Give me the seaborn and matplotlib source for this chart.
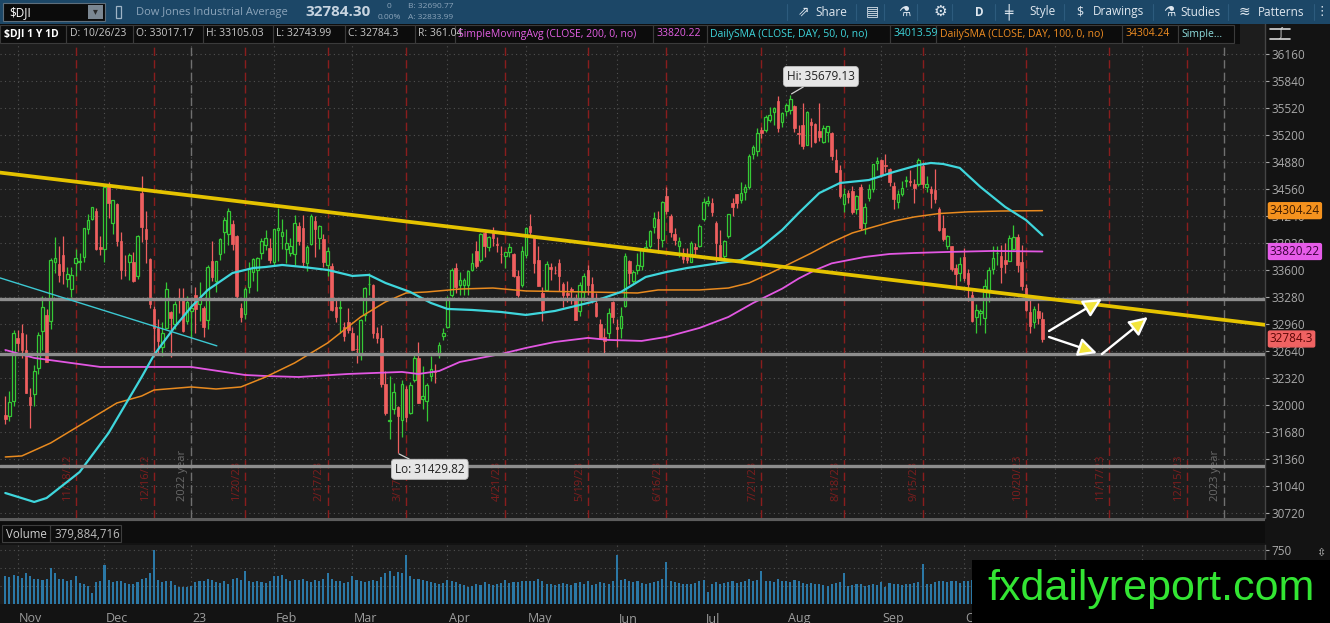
import numpy as np
import pandas as pd
import matplotlib
matplotlib.use("Agg")
import matplotlib.pyplot as plt
import seaborn as sns
from matplotlib.patches import Rectangle

sns.set_theme(style="dark")
plt.rcParams['font.family'] = ['Open Sans', 'DejaVu Sans']
plt.rcParams['patch.force_edgecolor'] = False

# ---------------- data (DJIA daily, 10/26/22 - 10/26/23) ----------------
opens = [31880, 31870, 32050, 32800,
 32860, 32650, 32100, 32130, 32440, 32880, 33070, 33000, 33700, 33670, 33780, 33500, 33380, 33680, 33700, 33750, 34090, 34210, 34300, 33870, 33850,
 34620, 34160, 34380, 33950, 33600, 33700, 33700, 33530, 34510, 34090, 33730, 33140, 32910, 32690, 32920, 33100, 32960, 33250, 33260, 33000, 33120,
 33300, 33200, 33150, 33010, 33710, 33470, 33790, 34050, 34030, 34150, 34000, 33150, 33080, 33400, 33580, 33600, 33800, 33900, 33860, 33700,
 34070, 34000, 33850, 33800, 33790, 34120, 34100, 33680, 33910, 34180, 33980, 33970, 33660, 33650, 33160, 33150, 32930, 32990, 32850,
 32670, 32590, 33070, 33430, 33420, 32860, 32800, 32250, 31810, 31950, 31980, 31820, 32190, 31910, 32300, 32560, 32070, 32050, 32340, 32400, 32590, 32820, 32930,
 33300, 33630, 33420, 33420, 33420, 33600, 33830, 33720, 34040, 33870, 34060, 33900, 33790, 33770, 33810, 33790, 33530, 33420, 33780,
 34120, 34000, 33720, 33330, 33360, 33640, 33570, 33690, 33430, 33330, 33380, 33270, 33120, 33340, 33600, 33430, 33210, 32960, 32810, 32850, 33220, 32930,
 32920, 33180, 33710, 33470, 33600, 33650, 33850, 33880, 34110, 34200, 33960, 34480, 34240, 34030, 33880, 33800, 33750, 33700, 33870, 33890, 34200,
 34400, 34390, 34160, 33900, 33770, 34000, 34400, 34500, 34430, 34530, 34580, 34970, 35010, 35260, 35260, 35380, 35470, 35600, 35360, 35480,
 35500, 35540, 35220, 35320, 35080, 35360, 35330, 35250, 35120, 35240, 35220, 34910, 34780, 34380, 34510, 34540, 34320, 34590, 34160, 34460, 34560, 34870, 34900,
 34850, 34800, 34600, 34410, 34500, 34650, 34650, 34620, 34620, 34830, 34580, 34560, 34550, 34320, 34100, 33890, 33880, 33620, 33560, 33760,
 33560, 33310, 33050, 33090, 33030, 33360, 33610, 33800, 33770, 33720, 33710, 33850, 33990, 33700, 33390, 33100, 32990, 33120, 33017.17]

highs = [32110, 32170, 32890, 32890,
 32960, 32840, 32200, 32480, 32870, 33290, 33140, 33740, 33990, 33890, 34000, 33640, 33640, 33850, 33800, 34100, 34270, 34350, 34340, 34000, 34590,
 34640, 34430, 34400, 34050, 33780, 33800, 33810, 34010, 34712, 34300, 33740, 33180, 33020, 32990, 33460, 33110, 33230, 33390, 33390, 33290, 33200,
 33400, 33460, 33170, 33660, 33940, 33710, 33980, 34230, 34330, 34190, 34010, 33210, 33400, 33700, 33740, 33760, 33980, 34080, 33980, 34090,
 34330, 34200, 34090, 33980, 34250, 34170, 34250, 33900, 34270, 34240, 34140, 34030, 33870, 33680, 33270, 33250, 32990, 33150, 32930,
 32830, 33020, 33400, 33570, 33430, 32930, 32950, 32400, 32340, 32260, 31990, 32300, 32230, 32280, 32600, 32750, 32460, 32260, 32580, 32490, 32750, 32910, 33290,
 33630, 33690, 33580, 33510, 33600, 33800, 33940, 34040, 34080, 34000, 34110, 33990, 33880, 33820, 33920, 33800, 33600, 33880, 34110,
 34260, 34000, 33880, 33400, 33710, 33690, 33650, 33730, 33460, 33470, 33400, 33320, 33460, 33560, 33660, 33520, 33330, 33020, 32920, 33150, 33230, 33020,
 33160, 33800, 33720, 33600, 33800, 33850, 33960, 34070, 34290, 34300, 34420, 34590, 34260, 34100, 33990, 33860, 33860, 33950, 33920, 34150, 34450,
 34480, 34450, 34180, 34070, 33960, 34270, 34450, 34500, 34640, 34620, 34980, 35080, 35280, 35300, 35440, 35530, 35530, 35660, 35470, 35580,
 35679.13, 35560, 35320, 35580, 35490, 35400, 35340, 35580, 35320, 35310, 35230, 35030, 34840, 34570, 34550, 34600, 34490, 34620, 34400, 34620, 34860, 34940, 34920,
 34980, 34810, 34640, 34550, 34650, 34720, 34780, 34680, 34930, 34880, 34720, 34600, 34800, 34350, 34250, 34020, 33890, 33670, 33760, 33860,
 33610, 33350, 33200, 33140, 33490, 33640, 33880, 33880, 33900, 33920, 34020, 34130, 34030, 33900, 33430, 33250, 33180, 33210, 33105.03]

lows = [31780, 31810, 31990, 32640,
 32560, 32140, 31730, 31990, 32370, 32650, 32510, 32900, 33560, 33460, 33430, 33400, 33280, 33530, 33600, 33700, 34030, 34190, 33840, 33780, 33700,
 34220, 34030, 33890, 33500, 33530, 33480, 33460, 33500, 33930, 33680, 33150, 32570, 32620, 32580, 32900, 32570, 32900, 33090, 32870, 32960, 32810,
 32850, 33000, 32810, 32900, 33470, 33340, 33720, 33800, 33900, 33840, 33270, 32980, 33020, 33330, 33470, 33350, 33730, 33840, 33680, 33660,
 33710, 33850, 33690, 33770, 33660, 33900, 33640, 33590, 33900, 33750, 33850, 33640, 33530, 33120, 32990, 32850, 32760, 32850, 32650,
 32500, 32530, 33000, 33310, 32800, 32740, 32220, 31880, 31600, 31900, 31429.82, 31620, 31800, 31900, 32280, 32030, 31960, 31810, 32290, 32260, 32560, 32770, 32920,
 33280, 33330, 33300, 33300, 33310, 33590, 33620, 33700, 33760, 33830, 33880, 33810, 33690, 33620, 33760, 33520, 33280, 33400, 33740,
 33990, 33570, 33410, 33000, 33350, 33480, 33550, 33350, 33160, 33220, 33200, 33010, 33060, 33230, 33300, 33210, 33040, 32780, 32590, 32800, 32970, 32690,
 32800, 33160, 33440, 33430, 33550, 33600, 33830, 33860, 34040, 33800, 33870, 34270, 33990, 33900, 33750, 33680, 33690, 33700, 33760, 33870, 34180,
 34360, 34240, 33700, 33730, 33710, 33980, 34240, 34330, 34400, 34430, 34560, 34920, 34950, 35170, 35230, 35350, 35320, 35240, 35300, 35430,
 35450, 35230, 35090, 35030, 35080, 35060, 35100, 35130, 35110, 35120, 34900, 34760, 34450, 34290, 34400, 34270, 34260, 34070, 34030, 34420, 34530, 34780, 34700,
 34760, 34600, 34320, 34340, 34480, 34590, 34600, 34400, 34600, 34570, 34520, 34330, 34400, 34060, 33950, 33850, 33590, 33380, 33470, 33470,
 33240, 32990, 32850, 32950, 32860, 33220, 33550, 33660, 33450, 33560, 33710, 33840, 33580, 33360, 33110, 32850, 32920, 32960, 32743.99]

closes = [31839, 32033, 32861, 32733,
 32653, 32148, 32001, 32403, 32827, 33161, 32514, 33716, 33748, 33537, 33593, 33554, 33547, 33746, 33700, 34098, 34194, 34347, 33850, 33853, 34590,
 34395, 34430, 33947, 33597, 33598, 33781, 33476, 34005, 34108, 33966, 33202, 32920, 32757, 32850, 33376, 33027, 33204, 33241, 32876, 33221, 33147,
 33136, 33270, 32930, 33631, 33518, 33704, 33974, 34190, 34303, 33910, 33297, 33045, 33375, 33630, 33734, 33744, 33950, 33978, 33717, 34086,
 34093, 34054, 33926, 33891, 34156, 33949, 33699, 33869, 34246, 34089, 34128, 33697, 33827, 33130, 33045, 33154, 32817, 32889, 32657,
 32662, 33004, 33391, 33432, 32856, 32798, 32255, 31910, 31820, 32155, 31875, 32247, 31862, 32245, 32561, 32031, 32106, 32238, 32433, 32395, 32718, 32860, 33274,
 33601, 33403, 33483, 33486, 33587, 33685, 33647, 34030, 33887, 33988, 33977, 33897, 33787, 33809, 33876, 33531, 33302, 33827, 34098,
 34052, 33684, 33415, 33128, 33674, 33619, 33562, 33531, 33309, 33301, 33349, 33013, 33420, 33536, 33427, 33287, 33056, 32800, 32765, 33093, 33043, 32908,
 33061, 33763, 33563, 33573, 33665, 33833, 33877, 34066, 34212, 33979, 34408, 34299, 34054, 33951, 33946, 33727, 33714, 33927, 33853, 34122, 34408,
 34418, 34288, 33922, 33734, 33944, 34262, 34347, 34395, 34509, 34585, 34952, 35061, 35225, 35228, 35411, 35438, 35520, 35282, 35459, 35560,
 35630, 35283, 35216, 35066, 35473, 35314, 35123, 35176, 35281, 35308, 34946, 34766, 34475, 34500, 34464, 34289, 34473, 34099, 34347, 34560, 34853, 34891, 34722,
 34838, 34642, 34443, 34501, 34577, 34664, 34646, 34576, 34907, 34618, 34625, 34518, 34441, 34070, 33964, 34007, 33619, 33551, 33667, 33508,
 33433, 33002, 33130, 33120, 33408, 33605, 33740, 33804, 33631, 33670, 33985, 33998, 33665, 33415, 33127, 32937, 33141, 33036, 32784.3]

volumes = [380, 370, 400, 390,
 360, 420, 390, 340, 350, 330, 340, 500, 430, 350, 340, 320, 330, 380, 290, 280, 250, 150, 300, 310, 535,
 330, 300, 310, 320, 290, 280, 280, 300, 350, 360, 420, 740, 330, 300, 310, 320, 260, 230, 240, 230, 250,
 300, 310, 320, 340, 330, 300, 290, 310, 280, 340, 360, 330, 450, 320, 300, 310, 300, 290, 320, 380,
 380, 400, 350, 320, 330, 330, 340, 320, 300, 330, 320, 340, 420, 340, 320, 310, 290, 300, 390,
 330, 320, 300, 310, 330, 320, 370, 420, 460, 390, 440, 420, 673, 380, 340, 350, 330, 320, 300, 290, 280, 290, 330,
 320, 300, 280, 260, 240, 250, 270, 260, 300, 280, 260, 270, 290, 330, 290, 300, 300, 310, 320,
 310, 320, 340, 320, 280, 270, 260, 280, 290, 270, 260, 290, 300, 280, 320, 260, 280, 300, 290, 280, 320, 673,
 330, 350, 310, 300, 310, 290, 280, 290, 300, 320, 350, 580, 310, 300, 290, 280, 270, 280, 290, 310, 330,
 160, 270, 300, 280, 290, 300, 310, 290, 300, 310, 350, 320, 330, 450, 320, 310, 300, 340, 320, 310,
 300, 330, 310, 290, 270, 290, 280, 270, 260, 250, 280, 290, 300, 430, 250, 260, 270, 280, 250, 260, 270, 260, 300,
 240, 290, 280, 270, 260, 270, 280, 290, 300, 557, 280, 270, 300, 320, 310, 300, 320, 310, 290, 320,
 310, 330, 320, 280, 300, 280, 270, 290, 300, 290, 280, 300, 310, 320, 380, 320, 300, 310, 379.88]

# moving averages (bar index, value)
sma50_idx = [0, 7, 10, 18, 25, 30, 33, 36, 41, 45, 49, 55, 60, 63, 67, 72, 78, 84, 88, 92, 98, 103, 107, 113, 120,
             126, 133, 142, 149, 155, 160, 165, 173, 178, 183, 188, 192, 197, 202, 209, 215, 221, 224, 227, 231, 236, 242, 247, 251]
sma50_val = [30960, 30854, 30901, 31209, 31671, 32085, 32334, 32595, 32927, 33163, 33365, 33566, 33625, 33637, 33661, 33637,
             33602, 33531, 33543, 33448, 33341, 33211, 33140, 33128, 33104, 33069, 33116, 33223, 33341, 33519, 33578, 33625,
             33684, 33720, 33874, 34075, 34276, 34513, 34632, 34667, 34762, 34845, 34869, 34857, 34810, 34585, 34348, 34194, 34013.59]
sma100_idx = [0, 4, 11, 19, 27, 33, 36, 45, 51, 57, 63, 70, 78, 86, 92, 97, 102, 110, 118, 126, 141, 153, 158, 168, 175,
              180, 185, 190, 195, 200, 205, 210, 215, 220, 226, 233, 241, 251]
sma100_val = [31387, 31399, 31553, 31790, 32026, 32109, 32180, 32216, 32192, 32216, 32334, 32500, 32737, 33045, 33223, 33329,
              33341, 33376, 33388, 33353, 33341, 33329, 33365, 33365, 33388, 33448, 33560, 33680, 33800, 33930, 34040, 34110,
              34180, 34230, 34270, 34290, 34300, 34304.24]
sma200_idx = [0, 7, 23, 45, 58, 63, 71, 83, 96, 100, 105, 110, 120, 126, 133, 141, 146, 154, 160, 168, 175, 181, 188,
              192, 196, 200, 208, 214, 220, 228, 239, 251]
sma200_val = [32654, 32560, 32453, 32453, 32358, 32346, 32334, 32370, 32394, 32370, 32405, 32512, 32607, 32678, 32749, 32797,
              32773, 32761, 32809, 32915, 33045, 33211, 33380, 33500, 33600, 33680, 33756, 33791, 33803, 33815, 33827, 33820.22]

# user drawings (bar index, price)
levels = [33262, 32610, 31278]
yellow_trend = [(-1.28, 34755), (304.87, 32952)]
cyan_trend_x = [-1.3, 51.2]
cyan_trend_y = [33508, 32703]
arrow_from = [(252.6, 32879), (252.6, 32808), (265.4, 32606)]
arrow_to = [(265.4, 33258), (264.2, 32618), (276.5, 33045)]

holidays = ['2022-11-24', '2022-12-26', '2023-01-02', '2023-01-16', '2023-02-20', '2023-04-07',
            '2023-05-29', '2023-06-19', '2023-07-04', '2023-09-04', '2023-11-23', '2023-12-25']
cal = pd.bdate_range('2022-10-26', '2023-12-29', freq='C', holidays=holidays)

n = min(len(opens), len(highs), len(lows), len(closes), len(volumes))
o = np.array(opens[:n], float); h = np.array(highs[:n], float)
l = np.array(lows[:n], float); c = np.array(closes[:n], float)
v = np.array(volumes[:n], float)
h = np.maximum(h, np.maximum(o, c)); l = np.minimum(l, np.minimum(o, c))
x = np.arange(n)

# ---------------- figure ----------------
W, H = 1330, 623
fig = plt.figure(figsize=(W / 100, H / 100), dpi=100, facecolor='#131313')

def rect(px0, py0, px1, py1):
    return [px0 / W, 1 - py1 / H, (px1 - px0) / W, (py1 - py0) / H]

BG = '#1d1d1d'
GREEN = '#35c935'
RED = '#ef5f5f'
XL = (-1.283, 304.87)

ax = fig.add_axes(rect(0, 24, 1265, 518))
axv = fig.add_axes(rect(0, 545, 1265, 604))
for a in (ax, axv):
    a.set_facecolor(BG)
    a.set_xlim(*XL)
    a.set_xticks([])
    for s in ('left', 'top', 'bottom'):
        a.spines[s].set_visible(False)
    a.spines['right'].set_color('#454545')
    a.spines['right'].set_linewidth(1)
    a.yaxis.tick_right()
    a.tick_params(axis='y', right=True, left=False, labelright=True, labelleft=False,
                  colors='#a9a9a9', labelsize=8.5, length=3, width=0.8, pad=2, direction='out')
    a.set_axisbelow(True)

ax.set_ylim(30664, 36515)
ax.set_yticks(np.arange(30720, 36200, 320))
ax.grid(True, axis='y', color='#505050', linestyle=(0, (1, 3)), lw=0.8)

# month lines / expiration lines / year lines
months = cal.to_period('M')
month_first = np.flatnonzero(months[1:] != months[:-1]) + 1
month_line_idx = month_first - 1
month_names = [('23' if cal[i].month == 1 else cal[i].strftime('%b')) for i in month_first]
exp_idx = [i for i, d in enumerate(cal) if d.weekday() == 4 and 15 <= d.day <= 21]
exp_lbl = [f"{cal[i].month}/{cal[i].day}/{cal[i].strftime('%y')}" for i in exp_idx]
year_idx = [i for i in range(len(cal) - 1) if cal[i].year != cal[i + 1].year] + [len(cal) - 1]
year_lbl = [f"{cal[i].year} year" for i in year_idx]

for a in (ax, axv):
    for i in month_line_idx:
        a.axvline(i, color='#505050', lw=0.8, linestyle=(0, (1, 3)), zorder=1)
for i, lab in zip(exp_idx, exp_lbl):
    ax.axvline(i, color='#8a1d1d', lw=1.0, linestyle=(0, (6, 3)), zorder=1)
    ax.annotate(lab, xy=(i, 0), xycoords=('data', 'axes fraction'), xytext=(-2, 12),
                textcoords='offset points', rotation=90, ha='right', va='bottom',
                color='#7e1e1e', fontsize=8)
for i, lab in zip(year_idx, year_lbl):
    ax.axvline(i, color='#707070', lw=1.0, linestyle=(0, (6, 3)), zorder=1)
    ax.annotate(lab, xy=(i, 0), xycoords=('data', 'axes fraction'), xytext=(-2, 12),
                textcoords='offset points', rotation=90, ha='right', va='bottom',
                color='#6a6a6a', fontsize=8)

# candles
up = c >= o
ax.vlines(x[up], l[up], h[up], color=GREEN, lw=0.9, zorder=3)
ax.vlines(x[~up], l[~up], h[~up], color=RED, lw=0.9, zorder=3)
ax.bar(x[up], np.maximum(c[up] - o[up], 8), bottom=o[up], width=0.62,
       facecolor=BG, edgecolor=GREEN, lw=0.9, zorder=4)
ax.bar(x[~up], np.maximum(o[~up] - c[~up], 8), bottom=c[~up], width=0.62,
       facecolor=RED, edgecolor=RED, lw=0.5, zorder=4)

# moving averages
sns.lineplot(x=sma200_idx, y=sma200_val, ax=ax, color='#e257e2', lw=1.3, zorder=5, legend=False)
sns.lineplot(x=sma100_idx, y=sma100_val, ax=ax, color='#e88a1f', lw=1.1, zorder=5, legend=False)
sns.lineplot(x=sma50_idx, y=sma50_val, ax=ax, color='#3fd6dc', lw=1.6, zorder=5, legend=False)
ax.set_xlabel(''); ax.set_ylabel('')

# drawings
for lv in levels:
    ax.axhline(lv, color='#8d8d8d', lw=2.4, zorder=6)
ax.axline(yellow_trend[0], yellow_trend[1], color='#e5c300', lw=2.7, zorder=7)
ax.plot(cyan_trend_x, cyan_trend_y, color='#3cc8d2', lw=1.0, zorder=6)
for p0, p1 in zip(arrow_from, arrow_to):
    ax.annotate('', xy=p1, xytext=p0,
                arrowprops=dict(arrowstyle='-|>,head_length=0.8,head_width=0.4', mutation_scale=14,
                                ec='white', fc='#f2e43c', lw=1.7, shrinkA=0, shrinkB=0), zorder=8)

# hi / lo callouts
ih = int(np.argmax(h)); il = int(np.argmin(l))
ax.annotate(f"Hi: {h[ih]:.2f}", xy=(ih, h[ih]), xytext=(22, 13), textcoords='offset points',
            ha='center', va='center', fontsize=8.5, color='#222222', zorder=9,
            bbox=dict(boxstyle='round,pad=0.3', fc='#e6e6e6', ec='#c0c0c0', lw=0.6),
            arrowprops=dict(arrowstyle='-', color='#d0d0d0', lw=0.9, shrinkA=0, shrinkB=1))
ax.annotate(f"Lo: {l[il]:.2f}", xy=(il, l[il]), xytext=(23, -11.5), textcoords='offset points',
            ha='center', va='center', fontsize=8.5, color='#222222', zorder=9,
            bbox=dict(boxstyle='round,pad=0.3', fc='#e6e6e6', ec='#c0c0c0', lw=0.6),
            arrowprops=dict(arrowstyle='-', color='#d0d0d0', lw=0.9, shrinkA=0, shrinkB=1))

# price axis markers
for val, fc, tc in [(sma100_val[-1], '#f5921e', '#3d1a00'),
                    (sma200_val[-1], '#e65ce9', '#3a003a'),
                    (c[-1], '#f06262', '#5a0606')]:
    txt = f"{val:.2f}" if val != c[-1] else f"{val:g}"
    ax.annotate(txt, xy=(1, val), xycoords=('axes fraction', 'data'), xytext=(3.5, 0),
                textcoords='offset points', ha='left', va='center', fontsize=8.5, color=tc,
                annotation_clip=False, zorder=10,
                bbox=dict(boxstyle='round,pad=0.12', fc=fc, ec=fc))

# volume
axv.bar(x, v, width=0.5, color='#2b78a6', edgecolor='none', lw=0, zorder=3)
axv.set_ylim(0, 812)
axv.set_yticks([250, 500, 750])
axv.set_yticklabels(['', '', '750'])
axv.grid(True, axis='y', color='#505050', linestyle=(0, (1, 3)), lw=0.8)
for i, name in zip(month_line_idx, month_names):
    axv.annotate(name, xy=(i, 0), xycoords=('data', 'axes fraction'), xytext=(1, -6),
                 textcoords='offset points', ha='left', va='top', color='#9c9c9c', fontsize=9,
                 annotation_clip=False)

# ---------------- overlay: toolbar, headers, watermark ----------------
ov = fig.add_axes([0, 0, 1, 1], zorder=20)
ov.set_xlim(0, W); ov.set_ylim(H, 0); ov.axis('off'); ov.patch.set_alpha(0)

ov.add_patch(Rectangle((0, 0), W, 24, fc='#1c4767', ec='none'))
ov.add_patch(Rectangle((3, 3), 102, 18, fc='#0b0b0b', ec='#5e6e7b', lw=0.8))
ov.text(9, 12.5, '$DJI', color='white', fontsize=8.5, va='center')
ov.add_patch(Rectangle((88, 5), 15, 14, fc='#7b8792', ec='none'))
ov.text(95.5, 12, '▾', color='#2a2a2a', fontsize=7, ha='center', va='center')
ov.add_patch(Rectangle((116, 6), 5, 12, fc='none', ec='#9fb4c6', lw=0.9))
ov.text(136, 12, 'Dow Jones Industrial Average', color='#8ba4ba', fontsize=8, va='center')
ov.text(305, 12, '32784.30', color='#c7d4e0', fontsize=11, fontweight='bold', va='center')
ov.text(389, 7, '0', color='#8ba4ba', fontsize=6, va='center', ha='center')
ov.text(389, 17.5, '0.00%', color='#8ba4ba', fontsize=6, va='center', ha='center')
ov.text(408, 7, 'B: 32690.77', color='#8ba4ba', fontsize=6, va='center')
ov.text(408, 17.5, 'A: 32833.99', color='#8ba4ba', fontsize=6, va='center')

TB = '#dfe7ef'
for xx, s, fs in [(798, '⇗', 10), (815, 'Share', 8.5), (866, '▤', 10), (898, '⚗', 10), (934, '⚙', 11),
                  (975, 'D', 8.5), (1004, '╪', 10), (1029, 'Style', 8.5), (1076, '$', 9),
                  (1093, 'Drawings', 8.5), (1163, '⚗', 10), (1180, 'Studies', 8.5), (1239, '≋', 10),
                  (1258, 'Patterns', 8.5)]:
    ov.text(xx, 12, s, color=TB, fontsize=fs, va='center', fontweight='bold' if s == 'D' else 'normal')
ov.text(1322, 12, '⋮', color=TB, fontsize=9, va='center', ha='center')
for xx in [787, 856, 884, 917, 952, 995, 1064, 1153, 1228, 1314]:
    ov.plot([xx, xx], [4, 20], color='#2d5b7d', lw=0.8)

# header row
ov.add_patch(Rectangle((0, 24), 1240, 19.5, fc='#0c0c0c', ec='none'))
cells = [(0, 66, '$DJI 1 Y 1D', '#ffffff', True), (66, 133, 'D: 10/26/23', '#c9c9c9', False),
         (133, 203, 'O: 33017.17', '#c9c9c9', False), (203, 273, 'H: 33105.03', '#c9c9c9', False),
         (273, 345, 'L: 32743.99', '#c9c9c9', False), (345, 415, 'C: 32784.3', '#c9c9c9', False),
         (415, 455, 'R: 361.04', '#c9c9c9', False),
         (455, 653, 'SimpleMovingAvg (CLOSE, 200, 0, no)', '#e35fe3', False),
         (653, 707, '33820.22', '#e35fe3', False),
         (707, 890, 'DailySMA (CLOSE, DAY, 50, 0, no)', '#3fd6dc', False),
         (890, 936, '34013.59', '#3fd6dc', False),
         (936, 1122, 'DailySMA (CLOSE, DAY, 100, 0, no)', '#ee8c22', False),
         (1122, 1178, '34304.24', '#ee8c22', False),
         (1178, 1234, 'Simple...', '#8fdede', False)]
for x0, x1, s, col, bold in cells:
    ov.add_patch(Rectangle((x0, 24.5), x1 - x0, 18.5, fc='none', ec='#3b3b3b', lw=0.8))
    ov.text(x0 + 3.5, 34, s, color=col, fontsize=7.5, va='center',
            fontweight='bold' if bold else 'normal')
# price-column icon
ov.plot([1270, 1290], [28.5, 28.5], color='#d8d8d8', lw=1.2)
ov.plot([1270, 1290], [39, 39], color='#d8d8d8', lw=1.2)
ov.text(1280, 33.5, '∫', color='#d8d8d8', fontsize=8, ha='center', va='center')

# pane separator and volume header
ov.add_patch(Rectangle((0, 518), 1265, 3, fc='#5c5c5c', ec='none'))
ov.add_patch(Rectangle((0, 522), 1265, 21, fc='#0d0d0d', ec='none'))
ov.add_patch(Rectangle((2, 525), 48, 17, fc='none', ec='#3e3e3e', lw=0.8))
ov.add_patch(Rectangle((50, 525), 71, 17, fc='none', ec='#3e3e3e', lw=0.8))
ov.text(6, 534, 'Volume', color='#d0d0d0', fontsize=8.3, va='center')
ov.text(54, 534, '379,884,716', color='#bdbdbd', fontsize=8.3, va='center')
ov.text(1321, 553, '⇳', color='#bdbdbd', fontsize=8, ha='center', va='center')

# watermark
ov.add_patch(Rectangle((972, 560), W - 972, H - 560, fc='#000000', ec='none'))
ov.text(1151, 589, 'fxdailyreport.com', color='#33e533', fontsize=31, ha='center', va='center',
        family=['Liberation Sans', 'DejaVu Sans'])

fig.savefig('out.png', dpi=100, facecolor=fig.get_facecolor())
